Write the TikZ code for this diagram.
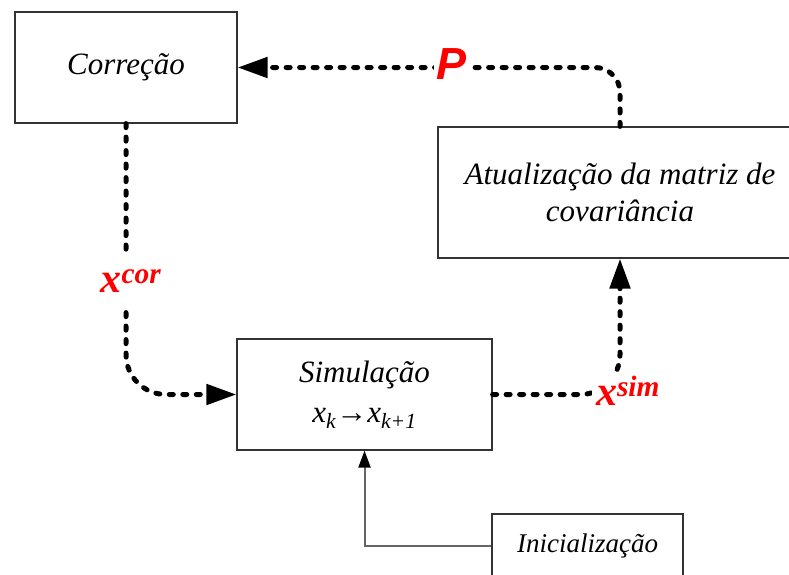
\documentclass[tikz,border=0pt]{standalone}
\usepackage{fontspec}
\setmainfont{Liberation Serif}
\newfontfamily\psans{Liberation Sans}
\usetikzlibrary{arrows.meta}

\newcommand{\boxfont}{\fontsize{31}{37}\selectfont\itshape}
\newcommand{\lblfont}{\fontsize{42}{48}\selectfont\bfseries\itshape}

\begin{document}
\begin{tikzpicture}[x=1pt, y=-1pt,
  blk/.style={draw=black!80, line width=1.2pt, align=center, font=\boxfont, inner sep=0pt},
  flow/.style={line width=5pt, line cap=round, dash pattern=on 4pt off 9.5pt,
    -{Triangle[length=30pt,width=20pt]}},
  lbl/.style={sharp corners, fill=white, text=red, font=\lblfont, inner sep=4pt}]
\useasboundingbox (0,0) rectangle (789,574);

\node[blk, minimum width=222pt, minimum height=111pt] (cor) at (126,67.5) {Correção};
\node[blk, minimum width=364pt, minimum height=131pt] (atu) at (620,192.5) {Atualização da matriz de\\covariância};
\node[blk, minimum width=255pt, minimum height=111pt] (sim) at (364.5,394.5)
  {Simulação\\[3pt]x\textsubscript{k}{\upshape →}x\textsubscript{k+1}};
\node[blk, minimum width=191pt, minimum height=64pt, font=\fontsize{27}{32}\selectfont\itshape] (ini) at (587.5,546) {Inicialização};

% fluxo do filtro
\draw[flow, rounded corners=40pt] (cor.south) |- node[lbl, pos=.29, xshift=5pt, inner xsep=2pt, inner ysep=14pt] (lcor) {x\textsuperscript{cor}} (sim.west);
\draw[flow, rounded corners=40pt] (sim.east) -| node[lbl, pos=.5, xshift=8pt, yshift=4pt] (lsim) {x\textsuperscript{sim}} (atu.south);
\draw[flow, rounded corners=25pt] (atu.north) |- node[lbl, pos=.72, yshift=3pt, inner sep=3pt, font=\fontsize{45}{50}\selectfont\psans\bfseries\itshape] (lp) {P} (cor.east);

% inicializacao
\draw[black!60, line width=2pt, -{Triangle[length=17pt,width=12pt,color=black]}] (ini.west) -| (sim.south);
\end{tikzpicture}
\end{document}
